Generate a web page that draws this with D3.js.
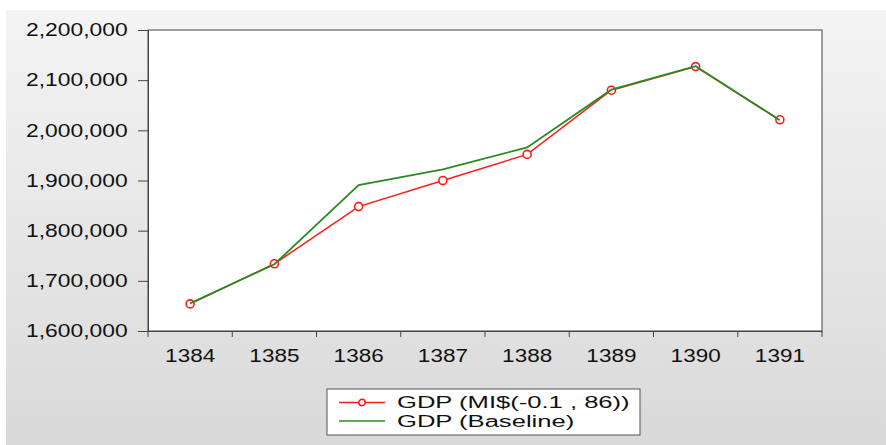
<!DOCTYPE html>
<html>
<head>
<meta charset="utf-8">
<script src="https://cdn.jsdelivr.net/npm/d3@7"></script>
<style>
  html, body { margin: 0; padding: 0; background: #fff; }
  text { font-family: "Liberation Sans", Arial, sans-serif; fill: #111; }
</style>
</head>
<body>
<svg id="chart"></svg>
<script>
const width = 886;
const height = 445;

// data
const years = ['1384', '1385', '1386', '1387', '1388', '1389', '1390', '1391'];
const gdpMI = [1654000, 1734000, 1848000, 1900000, 1952000, 2080000, 2127000, 2021000];
const gdpBaseline = [1655000, 1733000, 1891000, 1922000, 1966000, 2081000, 2128000, 2020000];
const yTicks = [1600000, 1700000, 1800000, 1900000, 2000000, 2100000, 2200000];
const seriesNames = ['GDP (MI$(-0.1 , 86))', 'GDP (Baseline)'];

const plot = { left: 148, right: 822, top: 30, bottom: 331 };

const svg = d3.select('#chart')
    .attr('width', width)
    .attr('height', height);

const defs = svg.append('defs');
const grad = defs.append('linearGradient')
    .attr('id', 'bg')
    .attr('x1', 0).attr('y1', 0).attr('x2', 0).attr('y2', 1);
grad.append('stop').attr('offset', '0%').attr('stop-color', '#f4f4f4');
grad.append('stop').attr('offset', '100%').attr('stop-color', '#d9d9d9');

svg.append('rect')
    .attr('x', 6).attr('y', 10)
    .attr('width', width - 6).attr('height', height - 10)
    .attr('fill', 'url(#bg)');

const x = d3.scaleBand()
    .domain(years)
    .range([plot.left, plot.right]);

const y = d3.scaleLinear()
    .domain([1600000, 2200000])
    .range([plot.bottom, plot.top]);

const cx = d => x(d) + x.bandwidth() / 2;

// plot box
svg.append('rect')
    .attr('x', plot.left).attr('y', plot.top)
    .attr('width', plot.right - plot.left)
    .attr('height', plot.bottom - plot.top)
    .attr('fill', '#fff')
    .attr('stroke', '#444')
    .attr('stroke-width', 1);

// y axis
const yAxis = svg.append('g')
    .attr('transform', `translate(${plot.left},0)`)
    .call(d3.axisLeft(y).tickValues(yTicks).tickFormat(d3.format(',')).tickSize(10).tickPadding(6));
yAxis.select('.domain').attr('stroke', '#444');
yAxis.selectAll('.tick line').attr('stroke', '#444');
yAxis.selectAll('.tick text')
    .attr('font-size', 18)
    .attr('transform', 'scale(1.27,1)');

// x axis: labels at centres, ticks at band edges
const xAxis = svg.append('g')
    .attr('transform', `translate(0,${plot.bottom})`)
    .call(d3.axisBottom(x).tickSize(0).tickPadding(18));
xAxis.select('.domain').attr('stroke', '#444');
xAxis.selectAll('.tick text')
    .attr('font-size', 18)
    .attr('transform', 'scale(1.25,1)')
    .attr('x', 0);

const edges = years.map(d => x(d)).concat([plot.right]);
xAxis.selectAll('.edge')
    .data(edges)
    .enter().append('line')
    .attr('class', 'edge')
    .attr('x1', d => d).attr('x2', d => d)
    .attr('y1', 0).attr('y2', 6)
    .attr('stroke', '#444');

const line = d3.line()
    .x((d, i) => cx(years[i]))
    .y(d => y(d));

svg.append('path')
    .datum(gdpMI)
    .attr('d', line)
    .attr('fill', 'none')
    .attr('stroke', '#ff1a1a')
    .attr('stroke-width', 1.5);

svg.selectAll('.marker')
    .data(gdpMI)
    .enter().append('circle')
    .attr('class', 'marker')
    .attr('cx', (d, i) => cx(years[i]))
    .attr('cy', d => y(d))
    .attr('r', 4)
    .attr('fill', '#fff')
    .attr('stroke', '#ff1a1a')
    .attr('stroke-width', 1.6);

svg.append('path')
    .datum(gdpBaseline)
    .attr('d', line)
    .attr('fill', 'none')
    .attr('stroke', '#2a8a22')
    .attr('stroke-width', 1.8);

// legend
const legend = svg.append('g').attr('transform', 'translate(327,389)');
legend.append('rect')
    .attr('width', 313).attr('height', 46)
    .attr('fill', '#fff')
    .attr('stroke', '#555');

const colors = ['#ff1a1a', '#2a8a22'];
const items = legend.selectAll('.item')
    .data(seriesNames)
    .enter().append('g')
    .attr('class', 'item')
    .attr('transform', (d, i) => `translate(0,${13.5 + i * 18.5})`);

items.append('line')
    .attr('x1', 12).attr('x2', 58)
    .attr('y1', 0).attr('y2', 0)
    .attr('stroke', (d, i) => colors[i])
    .attr('stroke-width', 1.5);

items.filter((d, i) => i === 0).append('circle')
    .attr('cx', 35).attr('cy', 0).attr('r', 3.2)
    .attr('fill', '#fff')
    .attr('stroke', colors[0])
    .attr('stroke-width', 1.5);

items.append('text')
    .attr('transform', 'translate(70,5.5) scale(1.6,1)')
    .attr('font-size', 16)
    .text(d => d);
</script>
</body>
</html>
